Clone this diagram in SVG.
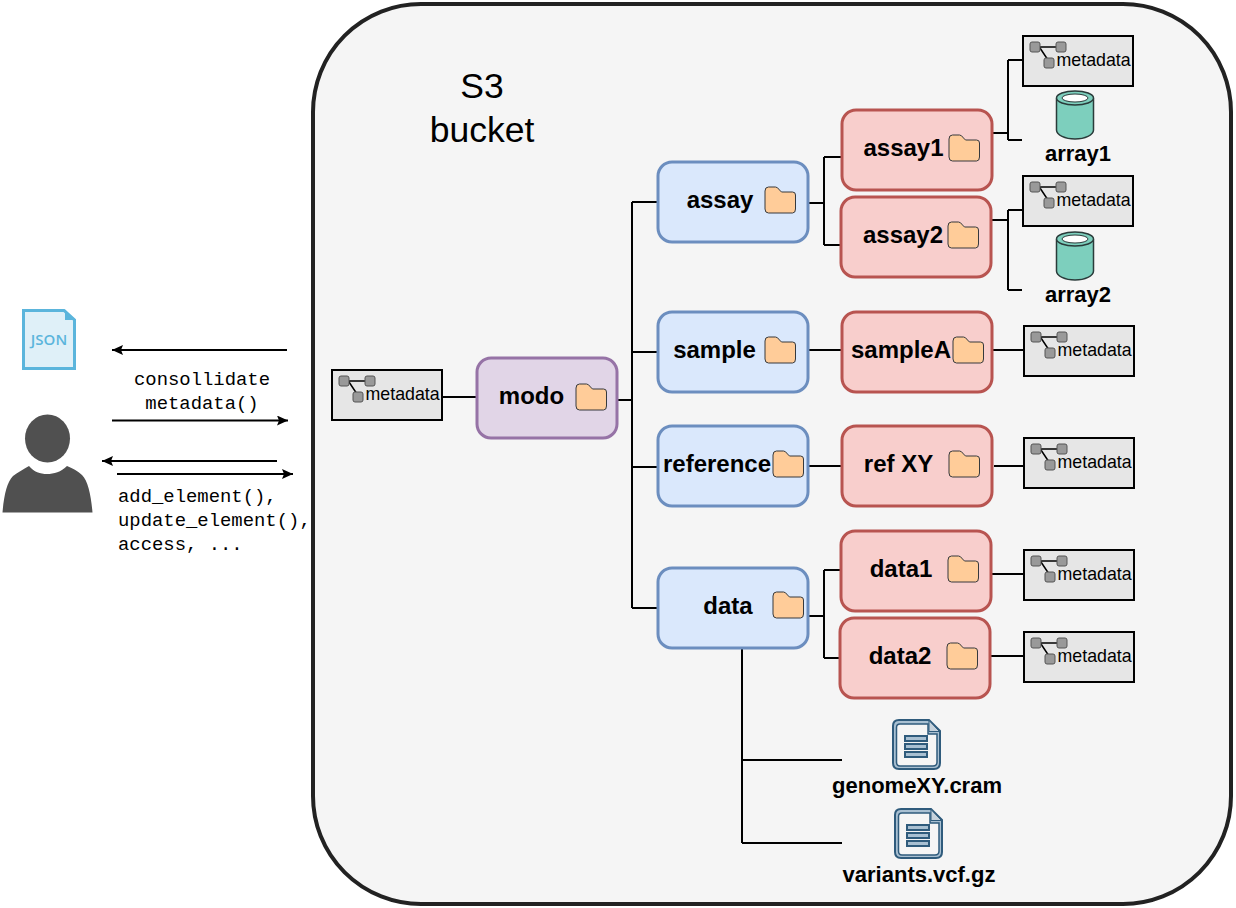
<svg xmlns="http://www.w3.org/2000/svg" width="1236" height="908" viewBox="0 0 1236 908">
<style>
text{font-family:"Liberation Sans",Arial,sans-serif;fill:#000}
.b{font-weight:bold;font-size:24px;text-anchor:middle}
.f{font-weight:bold;font-size:22px;text-anchor:middle}
.m{font-family:"Liberation Mono","Courier New",monospace;font-size:18.900px}
.node{stroke-width:3}
.blue{fill:#dae8fc;stroke:#6c8ebf}
.red{fill:#f8cecc;stroke:#b85450}
.purple{fill:#e1d5e7;stroke:#9673a6}
.c{fill:none;stroke:#000;stroke-width:2}
</style>
<defs>
<marker id="arr" markerUnits="userSpaceOnUse" markerWidth="12" markerHeight="10" refX="11" refY="5" orient="auto-start-reverse"><path d="M0 0L11 5L0 10L2 5Z" fill="#000"/></marker>
<g id="folder"><path d="M0 5Q0 1 3.500 1H10.500Q12.500 1 14.500 4L16.500 6H27.500Q30.500 6 30.500 9V23Q30.500 27 27.500 27H3.500Q0 27 0 23Z" fill="#ffcc99" stroke="#36393d" stroke-width="1"/></g>
<g id="meta">
<rect x="0" y="0" width="110" height="50" fill="#e6e6e6" stroke="#000" stroke-width="2"/>
<path d="M12 11H38M17 12L27 27" fill="none" stroke="#000" stroke-width="1.500"/>
<rect x="7" y="6" width="10" height="10" rx="2" fill="#999" stroke="#555"/>
<rect x="33" y="6" width="10" height="10" rx="2" fill="#999" stroke="#555"/>
<rect x="21" y="22" width="10" height="10" rx="2" fill="#999" stroke="#555"/>
<text x="33.500" y="30" font-size="17.800">metadata</text>
</g>
<g id="cyl">
<path d="M0.500 9V40C0.500 45 9 49 19 49C29 49 37.500 45 37.500 40V9Z" fill="#7dcfbd" stroke="#2a3b3a" stroke-width="1.500"/>
<ellipse cx="19" cy="8" rx="18.500" ry="7" fill="#7dcfbd" stroke="#2a3b3a" stroke-width="1.500"/>
<ellipse cx="19" cy="8" rx="13" ry="4" fill="#fff" stroke="#2a3b3a" stroke-width="1"/>
</g>
<g id="file">
<path d="M7 1H37L48 12V44Q48 50 42 50H7Q1 50 1 44V7Q1 1 7 1Z" fill="#a9c0d2" stroke="#2f5b7c" stroke-width="2"/>
<path d="M8 5H36V15H45V43Q45 47 41 47H8Q4.500 47 4.500 43V8.500Q4.500 5 8 5Z" fill="#f5f5f5" stroke="#2f5b7c" stroke-width="1.500"/>
<path d="M37 1.500L47.500 12.500H37Z" fill="#c6d2dc" stroke="#2f5b7c" stroke-width="1"/>
<rect x="13" y="17" width="22" height="5" fill="#a9c0d2" stroke="#2f5b7c" stroke-width="2"/>
<rect x="13" y="25" width="22" height="5" fill="#a9c0d2" stroke="#2f5b7c" stroke-width="2"/>
<rect x="13" y="33" width="22" height="5" fill="#a9c0d2" stroke="#2f5b7c" stroke-width="2"/>
</g>
</defs>
<rect width="1236" height="908" fill="#fff"/>
<rect id="bucket" x="313" y="4" width="918" height="900" rx="108" ry="108" fill="#f5f5f5" stroke="#222" stroke-width="4"/>
<text x="482" y="98" font-size="35.500" text-anchor="middle">S3</text>
<text x="482" y="142" font-size="35.500" text-anchor="middle">bucket</text>
<g id="connectors">
<path class="c" d="M442 397H477M617 400H632M632 202V608M632 202H658M632 352H658M632 467H658M632 608H658"/>
<path class="c" d="M808 203H824M824 157V245M824 157H842M824 245H841M808 350H842M808 466H842M808 616H824M824 570V658M824 570H841M824 658H840"/>
<path class="c" d="M742 648V843M742 760H842M742 843H842"/>
<path class="c" d="M992 133H1008M1008 60V140M1008 60H1023M1008 140H1022M991 220H1008M1008 210V290M1008 210H1023M1008 290H1022"/>
<path class="c" d="M992 350H1024M994 466H1024M991 574H1024M990 656H1024"/>
<path class="c" d="M287 350H112" marker-end="url(#arr)"/>
<path class="c" d="M112 420.500H288" marker-end="url(#arr)"/>
<path class="c" d="M277 461H102" marker-end="url(#arr)"/>
<path class="c" d="M117 474H293" marker-end="url(#arr)"/>
</g>
<g id="json">
<path d="M23.500 310.500H64L74.500 320V368.500H23.500Z" fill="#dff0f8" stroke="#5bb5dc" stroke-width="3"/>
<path d="M65 309.500L75.500 320H65Z" fill="#5bb5dc"/>
<text x="49" y="345" font-size="15" font-weight="600" text-anchor="middle" style="font-family:'Open Sans',sans-serif;fill:#5bb5dc">JSON</text>
</g>
<g id="user">
<ellipse cx="47.500" cy="438.500" rx="22.500" ry="24" fill="#505050"/>
<path d="M2.500 512.500C4 495 7 482 13 476C18 472 24 469 29 466C34 472 40 474 47 474C54 474 61 472 67 466C72 468 78 471 82 475C88 481 91 495 92.500 512.500Z" fill="#505050"/>
</g>
<text class="m" x="202" y="385" text-anchor="middle">consollidate</text>
<text class="m" x="202" y="409" text-anchor="middle">metadata()</text>
<text class="m" x="118" y="502">add_element(),</text>
<text class="m" x="118" y="526">update_element(),</text>
<text class="m" x="118" y="550">access, ...</text>
<use id="meta-modo" href="#meta" x="332" y="370"/>
<g id="modo"><rect class="node purple" x="477" y="358" width="140" height="80" rx="14"/><text class="b" x="531.500" y="404">modo</text><use href="#folder" x="576" y="383"/></g>
<g id="assay"><rect class="node blue" x="658" y="162" width="150" height="80" rx="14"/><text class="b" x="720" y="208">assay</text><use href="#folder" x="765" y="186"/></g>
<g id="sample"><rect class="node blue" x="658" y="312" width="150" height="80" rx="14"/><text class="b" x="714.500" y="358">sample</text><use href="#folder" x="765" y="336"/></g>
<g id="reference"><rect class="node blue" x="658" y="426" width="150" height="80" rx="14"/><text class="b" x="717" y="472">reference</text><use href="#folder" x="773" y="450"/></g>
<g id="data"><rect class="node blue" x="658" y="568" width="150" height="80" rx="14"/><text class="b" x="728" y="614">data</text><use href="#folder" x="773" y="591"/></g>
<g id="assay1"><rect class="node red" x="842" y="110" width="150" height="80" rx="14"/><text class="b" x="903.500" y="156">assay1</text><use href="#folder" x="949" y="134"/></g>
<g id="assay2"><rect class="node red" x="841" y="197" width="150" height="80" rx="14"/><text class="b" x="903" y="243">assay2</text><use href="#folder" x="948" y="221"/></g>
<g id="sampleA"><rect class="node red" x="842" y="312" width="150" height="80" rx="14"/><text class="b" x="901" y="358">sampleA</text><use href="#folder" x="953" y="336"/></g>
<g id="refXY"><rect class="node red" x="842" y="426" width="150" height="80" rx="14"/><text class="b" x="898.500" y="472">ref XY</text><use href="#folder" x="949" y="450"/></g>
<g id="data1"><rect class="node red" x="841" y="531" width="150" height="80" rx="14"/><text class="b" x="901" y="577">data1</text><use href="#folder" x="948" y="555"/></g>
<g id="data2"><rect class="node red" x="840" y="618" width="150" height="80" rx="14"/><text class="b" x="900" y="664">data2</text><use href="#folder" x="947" y="642"/></g>
<use id="meta1" href="#meta" x="1023" y="36"/>
<use id="meta2" href="#meta" x="1023" y="176"/>
<use id="meta3" href="#meta" x="1024" y="326"/>
<use id="meta4" href="#meta" x="1024" y="438"/>
<use id="meta5" href="#meta" x="1024" y="550"/>
<use id="meta6" href="#meta" x="1024" y="632"/>
<g id="array1"><use href="#cyl" x="1056" y="90"/><text class="f" x="1078" y="161">array1</text></g>
<g id="array2"><use href="#cyl" x="1056" y="231"/><text class="f" x="1078" y="302">array2</text></g>
<g id="genomeXY"><use href="#file" x="892" y="719"/><text class="f" x="917" y="793">genomeXY.cram</text></g>
<g id="variants"><use href="#file" x="894" y="808"/><text class="f" x="919" y="882">variants.vcf.gz</text></g>
</svg>
